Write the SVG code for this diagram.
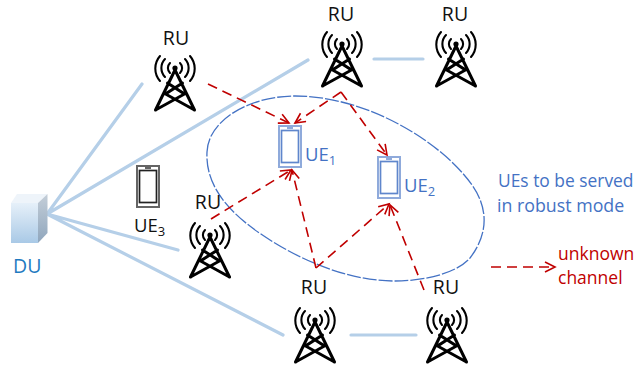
<svg xmlns="http://www.w3.org/2000/svg" width="635" height="369" viewBox="0 0 635 369">
<style>
text{font-family:"Open Sans","Noto Sans","Liberation Sans",sans-serif}
.ru{font-size:19.5px;fill:#111;text-anchor:middle}
.blue{font-size:18.5px;fill:#4472c4}
.red{font-size:17.5px;fill:#c00000}
.sub{font-size:13px}
.fiber{stroke:#b5cfe8;stroke-width:3.2;fill:none;stroke-linecap:round}
.chan{stroke:#c00000;stroke-width:1.6;fill:none;stroke-dasharray:10 6;marker-end:url(#ah)}
.tw{fill:none;stroke:#000;stroke-width:3;stroke-linecap:round}
.arc{fill:none;stroke:#000;stroke-width:2.1;stroke-linecap:round}
</style>
<defs>
<marker id="ah" markerUnits="userSpaceOnUse" markerWidth="14" markerHeight="14" refX="11" refY="6" orient="auto">
<path d="M1 1L11 6L1 11" fill="none" stroke="#c00000" stroke-width="1.6"/>
</marker>
<linearGradient id="duF" x1="0" y1="0" x2="0" y2="1"><stop offset="0" stop-color="#e6f0f9"/><stop offset="1" stop-color="#a9c9e6"/></linearGradient>
<linearGradient id="duS" x1="0" y1="0" x2="0" y2="1"><stop offset="0" stop-color="#c4ced8"/><stop offset="1" stop-color="#8fa6bd"/></linearGradient>
<symbol id="tower" overflow="visible">
<circle cx="0" cy="12" r="2.6" fill="#000"/>
<path class="tw" d="M0 14L-19.5 54M0 14L19.5 54M-19.5 54L9.5 38L-7.5 27M19.5 54L-9.5 38L7.5 27"/>
<path class="arc" d="M-5 7A7 7 0 0 0-5 17M5 7A7 7 0 0 1 5 17M-10 3A13 13 0 0 0-10 21M10 3A13 13 0 0 1 10 21M-15 0A19 19 0 0 0-15 25M15 0A19 19 0 0 1 15 25"/>
</symbol>
<symbol id="phone" overflow="visible">
<rect x="1" y="1" width="22" height="41" fill="#fff" stroke-width="2" stroke-opacity="0.7"/>
<rect x="3.5" y="5.5" width="17" height="32" fill="none" stroke-width="1.7"/>
<path d="M9 3H15" stroke-width="1.4"/>
</symbol>
</defs>
<g id="connectors">
<path class="fiber" d="M47 214L142 84M47 214L308 60M47 214L178 250M47 214L283 335M374 59H423M351 335H416"/>
<path d="M207 152C208 120 250 96 295 96C365 96 440 140 472 185C487 206 490 232 470 258C455 275 420 281 395 281C350 281 305 262 270 240C235 218 205 190 207 152Z" fill="none" stroke="#4472c4" stroke-width="1.3" stroke-dasharray="14 2"/>
<path class="chan" d="M208 84L289 123"/>
<path class="chan" d="M341 92L295 123"/>
<path class="chan" d="M341 92L387 155"/>
<path class="chan" d="M211 219L291 170"/>
<path class="chan" d="M316 268L292 170"/>
<path class="chan" d="M316 268L389 204"/>
<path class="chan" d="M424 290L390 205"/>
<path class="chan" d="M491 267H555"/>
</g>
<g id="du">
<path d="M11 203L17 194H47.5L38 203Z" fill="#eef4fa"/>
<path d="M11 203H38V243H11Z" fill="url(#duF)"/>
<path d="M38 203L47.5 194V233L38 243Z" fill="url(#duS)"/>
<text x="13" y="273" style="font-size:19.5px;fill:#1f7ac0">DU</text>
</g>
<g id="ru1"><text class="ru" x="176" y="45">RU</text><use href="#tower" x="175" y="56"/></g>
<g id="ru2"><text class="ru" x="341" y="21">RU</text><use href="#tower" x="342" y="32"/></g>
<g id="ru3"><text class="ru" x="455" y="21">RU</text><use href="#tower" x="456" y="32"/></g>
<g id="ru4"><text class="ru" x="208" y="209">RU</text><use href="#tower" x="210" y="223"/></g>
<g id="ru5"><text class="ru" x="314" y="294">RU</text><use href="#tower" x="315" y="308"/></g>
<g id="ru6"><text class="ru" x="446" y="294">RU</text><use href="#tower" x="447" y="308"/></g>
<g id="ue1"><use href="#phone" x="278" y="125" stroke="#5f86cc"/><text class="blue" x="305" y="161">UE<tspan class="sub" dy="4">1</tspan></text></g>
<g id="ue2"><use href="#phone" x="377" y="156" stroke="#5f86cc"/><text class="blue" x="404" y="192">UE<tspan class="sub" dy="4">2</tspan></text></g>
<g id="ue3"><use href="#phone" x="136" y="165" stroke="#222"/><text x="134" y="232" style="font-size:18.5px;fill:#111">UE<tspan class="sub" dy="4">3</tspan></text></g>
<g id="legend">
<text class="blue" x="498" y="187" style="font-size:17.4px">UEs to be served</text>
<text class="blue" x="497" y="212" style="font-size:17.8px">in robust mode</text>
<text class="red" x="558" y="260">unknown</text>
<text class="red" x="558" y="284">channel</text>
</g>
</svg>
